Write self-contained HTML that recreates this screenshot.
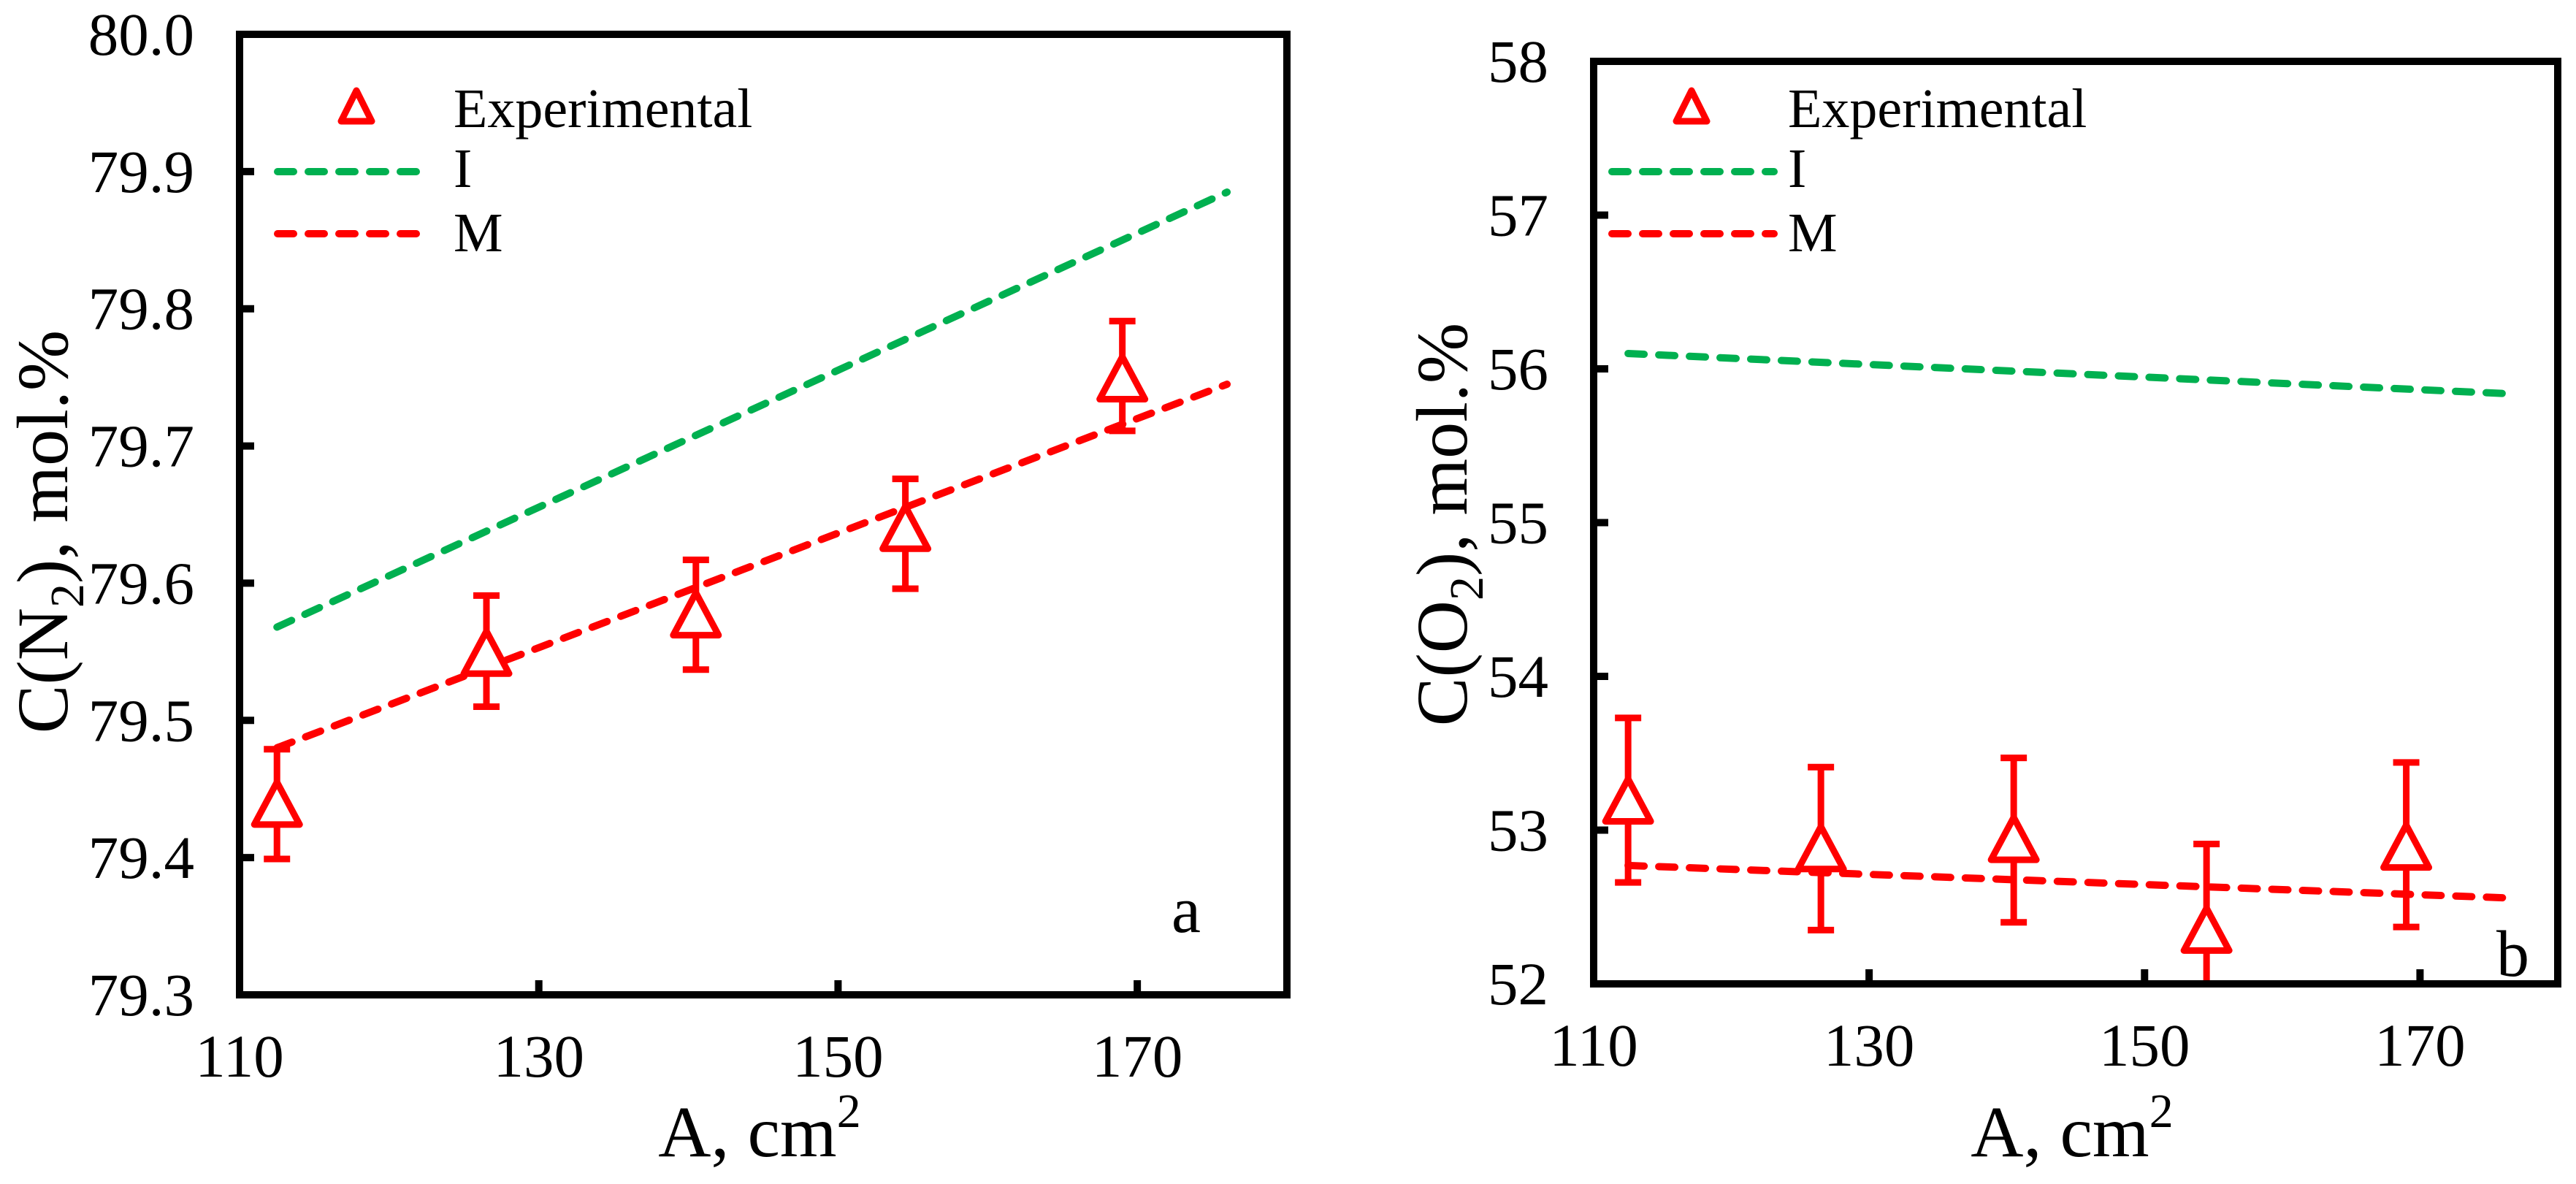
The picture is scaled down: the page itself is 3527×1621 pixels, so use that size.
<!DOCTYPE html>
<html><head><meta charset="utf-8"><style>
html,body{margin:0;padding:0;background:#fff;}
svg{display:block;}
text{font-family:"Liberation Serif","Times New Roman",serif;}
</style></head><body>
<svg id="chart" width="3527" height="1621" viewBox="0 0 3527 1621" xmlns="http://www.w3.org/2000/svg" font-family="Liberation Serif, serif">
<g id="pa"></g>
<g id="pb"></g>
</svg>
<script>
const xTicks = [110, 130, 150, 170];
const expX = [112.5, 126.5, 140.5, 154.5, 169];
const lineX = [112.5, 176];
// panel a
const aYTicks = ["79.3","79.4","79.5","79.6","79.7","79.8","79.9","80.0"];
const aExp = [79.439, 79.549, 79.577, 79.640, 79.749];
const aErrHi = [79.479, 79.591, 79.617, 79.676, 79.791];
const aErrLo = [79.399, 79.510, 79.537, 79.596, 79.711];
const aLineI = [79.568, 79.885];
const aLineM = [79.480, 79.745];
// panel b
const bYTicks = ["52","53","54","55","56","57","58"];
const bExp = [53.19, 52.88, 52.94, 52.35, 52.89];
const bErrHi = [53.73, 53.41, 53.47, 52.91, 53.44];
const bErrLo = [52.66, 52.35, 52.40, 52.00, 52.37];
const bLineI = [56.10, 55.84];
const bLineM = [52.77, 52.56];

const NS = "http://www.w3.org/2000/svg";
const FF = '"Liberation Serif", serif';
function mk(parent, tag, attrs, text){
  const e = document.createElementNS(NS, tag);
  for (const k in attrs) e.setAttribute(k, attrs[k]);
  if (tag === "text") e.setAttribute("font-family", FF);
  if (text !== undefined) e.textContent = text;
  parent.appendChild(e);
  return e;
}
function panel(g, cfg){
  const sx = v => cfg.L + (v - 110) / 70 * (cfg.R - cfg.L);
  const sy = v => cfg.B - (v - cfg.ymin) / (cfg.ymax - cfg.ymin) * (cfg.B - cfg.T);
  cfg.yt.forEach(t => {
    const y = sy(parseFloat(t));
    const tk = mk(g, "line", {x1: cfg.L, x2: cfg.L + 20, y1: y, y2: y, stroke: "#000", "stroke-width": 10});
    
    
    const lb = mk(g, "text", {x: cfg.L - 62, y: y + 28, "text-anchor": "end", "font-size": 83}, t);
    
    
  });
  xTicks.forEach(t => {
    const x = sx(t);
    const tk = mk(g, "line", {x1: x, x2: x, y1: cfg.B, y2: cfg.B - 20, stroke: "#000", "stroke-width": 10});
    
    
    const lb = mk(g, "text", {x: x, y: cfg.B + 112, "text-anchor": "middle", "font-size": 83}, String(t));
    
    
  });
  const li = mk(g, "line", {x1: sx(lineX[0]), y1: sy(cfg.I[0]), x2: sx(lineX[1]), y2: sy(cfg.I[1]), stroke: "#00b050", "stroke-width": 10, "stroke-dasharray": "22 20", "stroke-linecap": "round"});
  
  
  const lm = mk(g, "line", {x1: sx(lineX[0]), y1: sy(cfg.M[0]), x2: sx(lineX[1]), y2: sy(cfg.M[1]), stroke: "#ff0000", "stroke-width": 10, "stroke-dasharray": "22 20", "stroke-linecap": "round"});
  
  
  expX.forEach((xv, i) => {
    const x = sx(xv), yh = Math.max(sy(cfg.hi[i]), cfg.T), yl = Math.min(sy(cfg.lo[i]), cfg.B);
    const eb = mk(g, "path", {d: `M${x},${yh}V${yl}M${x-18},${yh}H${x+18}M${x-18},${yl}H${x+18}`, stroke: "#ff0000", "stroke-width": 9, fill: "none"});
    
    
    const y = sy(cfg.exp[i]);
    const tr = mk(g, "path", {d: `M${x},${y-30}L${x+31},${y+28}L${x-31},${y+28}Z`, stroke: "#ff0000", "stroke-width": 9, fill: "#fff", "stroke-linejoin": "round"});
    
    
  });
  const fr = mk(g, "rect", {x: cfg.L, y: cfg.T, width: cfg.R - cfg.L, height: cfg.B - cfg.T, fill: "none", stroke: "#000", "stroke-width": 10});
  
  
  const lg = cfg.lg;
  const lt = mk(g, "path", {d: `M${lg.tx},${lg.ty-22}L${lg.tx+21},${lg.ty+20}L${lg.tx-21},${lg.ty+20}Z`, stroke: "#ff0000", "stroke-width": 9, fill: "#fff", "stroke-linejoin": "round"});
  
  
  const t1 = mk(g, "text", {x: lg.text, y: lg.ty + 28, "font-size": 76}, "Experimental");
  
  
  const l1 = mk(g, "line", {x1: lg.l0, x2: lg.l1, y1: lg.ty + 89, y2: lg.ty + 89, stroke: "#00b050", "stroke-width": 10, "stroke-dasharray": "22 20", "stroke-linecap": "round"});
  
  
  const t2 = mk(g, "text", {x: lg.text, y: lg.ty + 110, "font-size": 76}, "I");
  
  
  const l2 = mk(g, "line", {x1: lg.l0, x2: lg.l1, y1: lg.ty + 174, y2: lg.ty + 174, stroke: "#ff0000", "stroke-width": 10, "stroke-dasharray": "22 20", "stroke-linecap": "round"});
  
  
  const t3 = mk(g, "text", {x: lg.text, y: lg.ty + 198, "font-size": 76}, "M");
  
  
  const pl = mk(g, "text", {x: cfg.letter[0], y: cfg.letter[1], "font-size": 90}, cfg.letterT);
  
  
  const xt = mk(g, "text", {x: (cfg.L + cfg.R) / 2 - 5, y: 1583, "text-anchor": "middle", "font-size": 100});
  
  
  xt.innerHTML = 'A, cm<tspan dy="-40" font-size="66">2</tspan>';
  const yt = mk(g, "text", {x: 0, y: 0, "text-anchor": "middle", "font-size": 100, transform: `translate(${cfg.yTitle[0]},${cfg.yTitle[1]}) rotate(-90)`});
  
  
  yt.innerHTML = `C(${cfg.sp}<tspan dy="22" font-size="66">2</tspan><tspan dy="-22">), mol.%</tspan>`;
}
panel(document.getElementById("pa"), {L: 328, R: 1762, T: 47, B: 1362, ymin: 79.3, ymax: 80.0,
  yt: aYTicks, exp: aExp, hi: aErrHi, lo: aErrLo, I: aLineI, M: aLineM,
  lg: {tx: 488, ty: 146, text: 621, l0: 380, l1: 585},
  letter: [1604, 1276], letterT: "a", yTitle: [92, 728], sp: "N"});
panel(document.getElementById("pb"), {L: 2182, R: 3502, T: 84, B: 1347, ymin: 52, ymax: 58,
  yt: bYTicks, exp: bExp, hi: bErrHi, lo: bErrLo, I: bLineI, M: bLineM,
  lg: {tx: 2316, ty: 146, text: 2448, l0: 2207, l1: 2429},
  letter: [3418, 1336], letterT: "b", yTitle: [2008, 718], sp: "O"});
</script>
</body></html>
